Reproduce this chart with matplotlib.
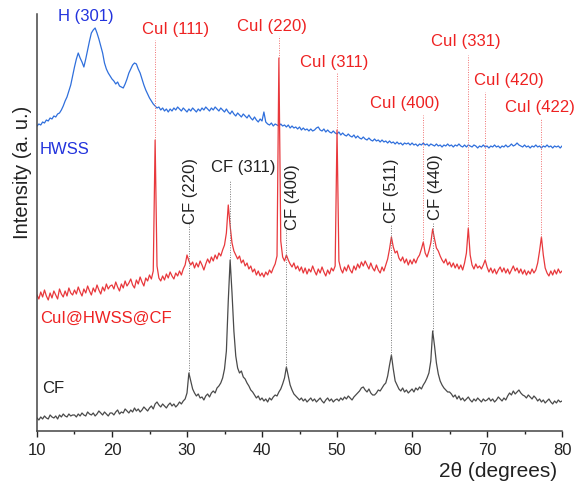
import matplotlib.pyplot as plt
import numpy as np
from matplotlib.ticker import MultipleLocator

plt.rcParams['font.family'] = ['Liberation Sans', 'DejaVu Sans']

# 2-theta grid, 0.25 degree steps from 10 to 80
two_theta = np.arange(10.0, 80.001, 0.25)

# Intensities (a.u., offset traces), one row per 5 degrees
hwss_rows = [
    [305, 307, 306, 309, 308, 311, 310, 313, 312, 315, 314, 317, 318, 321, 325, 330, 334, 340, 346, 355],
    [364, 372, 378, 373, 369, 364, 372, 381, 390, 398, 401, 403, 398, 392, 385, 378, 368, 362, 358, 355],
    [352, 350, 347, 349, 345, 344, 343, 347, 352, 358, 362, 366, 368, 367, 362, 358, 352, 346, 341, 337],
    [333, 330, 327, 325, 323, 324, 321, 323, 320, 322, 319, 322, 320, 323, 321, 324, 322, 320, 323, 321],
    [319, 322, 320, 323, 321, 319, 322, 320, 323, 321, 324, 322, 320, 323, 321, 324, 322, 320, 323, 321],
    [319, 322, 319, 317, 320, 317, 315, 318, 316, 314, 317, 315, 313, 316, 313, 311, 314, 311, 309, 312],
    [310, 319, 309, 307, 306, 308, 305, 307, 306, 305, 307, 305, 306, 304, 306, 303, 305, 303, 304, 302],
    [304, 301, 303, 301, 302, 300, 302, 300, 301, 303, 304, 301, 300, 302, 299, 301, 299, 298, 300, 298],
    [297, 299, 296, 298, 296, 295, 297, 295, 294, 296, 293, 295, 293, 292, 294, 292, 291, 293, 291, 290],
    [292, 290, 291, 289, 291, 289, 290, 288, 290, 288, 289, 287, 289, 287, 288, 286, 288, 287, 288, 286],
    [288, 286, 287, 285, 287, 286, 288, 286, 287, 285, 287, 286, 285, 287, 285, 286, 284, 286, 285, 287],
    [285, 286, 284, 286, 285, 287, 285, 284, 286, 284, 286, 285, 284, 286, 285, 283, 285, 284, 286, 284],
    [285, 283, 285, 284, 286, 284, 285, 283, 285, 284, 286, 284, 285, 287, 285, 286, 288, 286, 285, 284],
    [286, 284, 285, 283, 285, 284, 286, 284, 285, 283, 285, 284, 286, 284, 285, 283, 285, 284, 285, 283],
    [285],
]

composite_rows = [
    [136, 132, 139, 134, 141, 135, 131, 138, 133, 140, 136, 132, 142, 137, 134, 140, 135, 143, 138, 136],
    [141, 137, 144, 139, 135, 142, 138, 145, 140, 136, 143, 139, 146, 141, 137, 144, 140, 147, 142, 145],
    [146, 142, 149, 144, 140, 147, 143, 150, 145, 148, 152, 146, 143, 151, 147, 154, 149, 145, 153, 150],
    [156, 152, 160, 291, 165, 153, 150, 155, 151, 157, 153, 159, 155, 152, 158, 155, 160, 156, 162, 166],
    [176, 170, 166, 169, 163, 168, 164, 170, 166, 161, 167, 172, 168, 174, 170, 176, 172, 178, 175, 181],
    [186, 198, 226, 205, 188, 180, 176, 172, 175, 168, 171, 165, 168, 162, 165, 159, 162, 156, 160, 155],
    [158, 154, 159, 156, 161, 158, 163, 167, 175, 373, 190, 174, 170, 176, 171, 167, 164, 168, 162, 165],
    [160, 164, 158, 163, 157, 162, 159, 165, 160, 156, 162, 158, 164, 159, 155, 161, 157, 163, 160, 165],
    [301, 170, 162, 158, 164, 160, 166, 161, 158, 165, 161, 167, 163, 169, 165, 170, 166, 162, 168, 163],
    [160, 166, 161, 158, 164, 160, 166, 172, 182, 194, 184, 178, 180, 173, 170, 174, 168, 172, 166, 171],
    [167, 172, 168, 173, 176, 182, 189, 178, 174, 180, 188, 202, 192, 183, 180, 175, 171, 168, 172, 166],
    [169, 164, 168, 163, 167, 162, 166, 161, 168, 178, 203, 176, 166, 162, 167, 163, 165, 162, 166, 171],
    [164, 159, 163, 158, 162, 157, 161, 164, 159, 163, 158, 162, 157, 161, 165, 160, 163, 158, 162, 157],
    [161, 156, 160, 157, 162, 158, 161, 168, 180, 194, 176, 163, 158, 155, 160, 156, 161, 157, 162, 158],
    [160],
]

cf_rows = [
    [13, 11, 14, 12, 15, 13, 12, 16, 14, 13, 15, 12, 16, 14, 17, 15, 14, 17, 15, 16],
    [16, 14, 17, 15, 18, 16, 15, 19, 17, 16, 18, 15, 17, 20, 18, 16, 19, 17, 15, 18],
    [18, 16, 19, 21, 17, 19, 18, 22, 20, 18, 21, 19, 23, 20, 22, 19, 21, 24, 22, 20],
    [23, 25, 22, 27, 29, 26, 24, 27, 25, 23, 26, 28, 25, 27, 24, 26, 29, 27, 30, 32],
    [38, 58, 50, 42, 38, 35, 37, 33, 34, 31, 35, 37, 34, 38, 40, 38, 43, 45, 48, 53],
    [62, 80, 130, 171, 138, 100, 75, 63, 58, 60, 54, 52, 48, 45, 41, 39, 36, 33, 35, 31],
    [33, 30, 32, 29, 33, 31, 34, 36, 35, 39, 42, 47, 53, 64, 55, 46, 41, 37, 35, 33],
    [31, 33, 30, 32, 29, 31, 33, 30, 32, 29, 31, 33, 30, 28, 31, 33, 30, 32, 29, 31],
    [32, 30, 33, 31, 34, 32, 35, 33, 31, 34, 36, 38, 40, 43, 44, 41, 39, 42, 38, 36],
    [36, 38, 41, 40, 43, 46, 48, 55, 66, 76, 62, 50, 46, 42, 40, 43, 39, 41, 38, 40],
    [42, 39, 43, 41, 44, 42, 46, 49, 53, 58, 70, 100, 85, 68, 57, 50, 46, 43, 41, 39],
    [39, 37, 34, 36, 32, 35, 31, 33, 30, 32, 34, 31, 29, 32, 30, 33, 31, 29, 32, 30],
    [31, 33, 30, 32, 29, 31, 34, 32, 30, 33, 31, 35, 38, 36, 40, 37, 39, 41, 38, 36],
    [35, 33, 36, 34, 32, 35, 33, 30, 32, 29, 31, 28, 30, 32, 29, 27, 30, 28, 31, 29],
    [30],
]

hwss = np.concatenate(hwss_rows)
composite = np.concatenate(composite_rows)
cf = np.concatenate(cf_rows)

# reflection labels: name, peak 2-theta
cui_labels = ['CuI (111)', 'CuI (220)', 'CuI (311)', 'CuI (400)', 'CuI (331)', 'CuI (420)', 'CuI (422)']
cui_peaks = [25.75, 42.25, 50.0, 61.5, 67.5, 69.75, 77.25]
cf_labels = ['CF (220)', 'CF (311)', 'CF (400)', 'CF (511)', 'CF (440)']
cf_peaks = [30.25, 35.75, 43.25, 57.25, 62.75]

blue = '#2f6fdc'
red = '#e8383c'
grey = '#4a4a4a'

fig = plt.figure(figsize=(5.77, 4.86), dpi=100)
ax = fig.add_axes([0.0641, 0.1132, 0.910, 0.858])

ax.plot(two_theta, hwss, color=blue, lw=0.9)
ax.plot(two_theta, composite, color=red, lw=0.9)
ax.plot(two_theta, cf, color=grey, lw=0.9)

# CuI reflections: label position (x, y) and top of the guide line
cui_text_xy = [(28.5, 401), (41.3, 404), (49.6, 368), (59.1, 327), (67.2, 389), (72.9, 350), (77.1, 323)]
cui_line_top = [391, 395, 358, 316, 376, 339, 313]
for name, pos, (tx, ty), top in zip(cui_labels, cui_peaks, cui_text_xy, cui_line_top):
    peak = composite[np.argmin(np.abs(two_theta - pos))]
    ax.plot([pos, pos], [peak, top], color='#f07070', lw=0.7, ls=(0, (1, 1.5)))
    ax.text(tx, ty, name, color='#ee2222', fontsize=12, ha='center', va='center')

# CF reflections
cf_text_xy = [(30.4, 240), (37.5, 263), (44.0, 234), (57.3, 240), (63.1, 244)]
cf_rot = [90, 0, 90, 90, 90]
cf_line_top = [209, 251, 203, 206, 209]
for name, pos, (tx, ty), rot, top in zip(cf_labels, cf_peaks, cf_text_xy, cf_rot, cf_line_top):
    peak = cf[np.argmin(np.abs(two_theta - pos))]
    ax.plot([pos, pos], [peak, top], color='#777777', lw=0.7, ls=(0, (1, 1.5)))
    ax.text(tx, ty, name, color='#222222', fontsize=12, ha='center', va='center', rotation=rot)

ax.text(16.5, 414, 'H (301)', color='#2233dd', fontsize=12, ha='center', va='center')
ax.text(10.4, 281, 'HWSS', color='#2233dd', fontsize=12, ha='left', va='center')
ax.text(10.4, 113, 'CuI@HWSS@CF', color='#ee2222', fontsize=12, ha='left', va='center')
ax.text(10.7, 42, 'CF', color='#222222', fontsize=12, ha='left', va='center')

ax.set_xlim(10, 80)
ax.set_ylim(0, 417)
ax.xaxis.set_major_locator(MultipleLocator(10))
ax.xaxis.set_minor_locator(MultipleLocator(5))
ax.tick_params(axis='x', which='major', direction='out', length=4.5, width=1.0,
               labelsize=12, colors='#222222', pad=4)
ax.tick_params(axis='x', which='minor', direction='out', length=2.5, width=1.0, colors='#222222')
ax.set_yticks([])
for side in ['top', 'right']:
    ax.spines[side].set_visible(False)
for side in ['left', 'bottom']:
    ax.spines[side].set_color('#444444')
    ax.spines[side].set_linewidth(1.1)

ax.set_ylabel('Intensity (a. u.)', fontsize=14.5, color='#222222')
ax.yaxis.set_label_coords(-0.01, 0.62)
ax.set_xlabel('2θ (degrees)', fontsize=15, color='#222222')
ax.xaxis.set_label_coords(0.99, -0.075)
ax.xaxis.label.set_ha('right')

fig.savefig('out.png', dpi=100)
